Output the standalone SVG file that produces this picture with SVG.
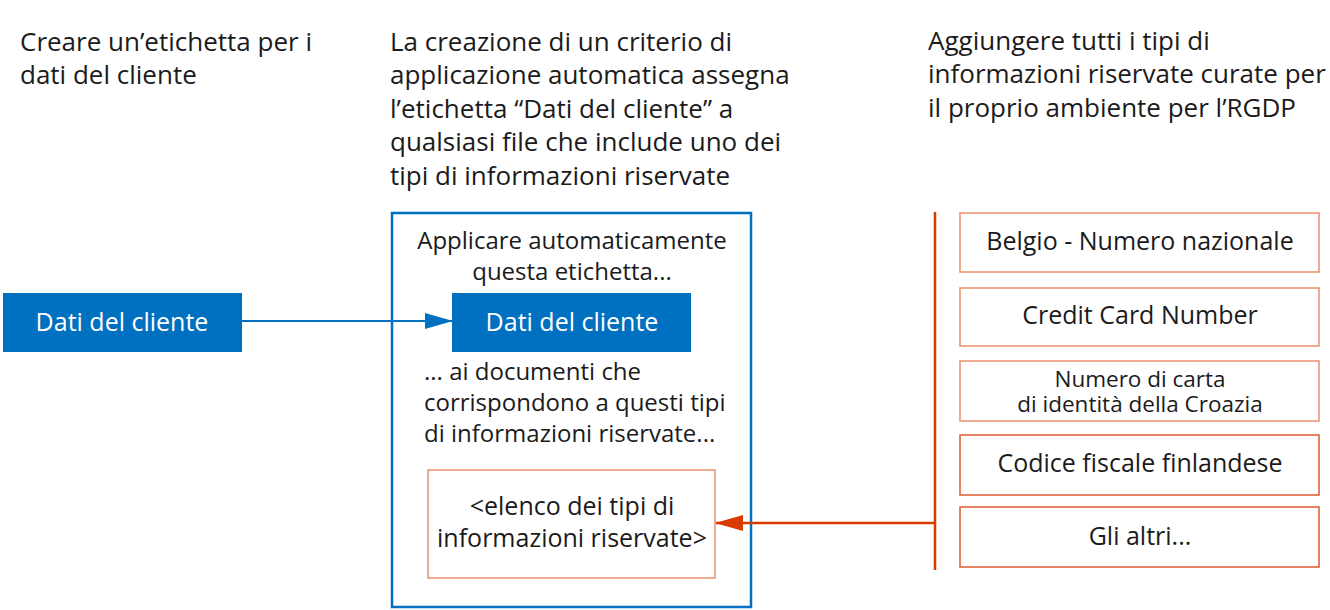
<svg xmlns="http://www.w3.org/2000/svg" width="1330" height="610" viewBox="0 0 1330 610">
<defs>
<style>
text{font-family:"Open Sans","Noto Sans","Liberation Sans",sans-serif;fill:#1b1b1b}
.h{font-size:26px}
.m{font-size:24px}
.l{font-size:25px}
.b{font-size:25px}
.s{font-size:22.5px}
.w{fill:#ffffff;font-size:25px}
.c{text-anchor:middle}
.blue{fill:#0070c0}
.o1{fill:#ffffff;stroke:#e9906f;stroke-width:1.5}
.o2{fill:#ffffff;stroke:#dc5a2e;stroke-width:1.5}
</style>
<marker id="ab" markerWidth="28" markerHeight="20" refX="27" refY="10" orient="auto" markerUnits="userSpaceOnUse"><path d="M0,2 L28,10 L0,18 Z" fill="#0070c0"/></marker>
<marker id="ao" markerWidth="28" markerHeight="20" refX="27" refY="10" orient="auto" markerUnits="userSpaceOnUse"><path d="M0,2 L28,10 L0,18 Z" fill="#d83b01"/></marker>
</defs>
<rect width="1330" height="610" fill="#ffffff"/>
<g id="title-left"><text class="h" x="20" y="51">Creare un’etichetta per i</text><text class="h" x="20" y="84">dati del cliente</text></g>
<g id="title-center"><text class="h" x="390" y="51">La creazione di un criterio di</text><text class="h" x="390" y="84">applicazione automatica assegna</text><text class="h" x="390" y="118">l’etichetta “Dati del cliente” a</text><text class="h" x="390" y="151">qualsiasi file che include uno dei</text><text class="h" x="390" y="185">tipi di informazioni riservate</text></g>
<g id="title-right"><text class="h" x="928" y="50">Aggiungere tutti i tipi di</text><text class="h" x="928" y="83">informazioni riservate curate per</text><text class="h" x="928" y="117">il proprio ambiente per l’RGDP</text></g>
<g id="label-source"><rect class="blue" x="3" y="293" width="239" height="59"/><text class="w c" x="122" y="331">Dati del cliente</text></g>
<g id="policy"><rect x="392" y="213" width="359" height="394" fill="none" stroke="#0070c0" stroke-width="2.5"/>
<text class="m c" x="572" y="249">Applicare automaticamente</text><text class="m c" x="572" y="280">questa etichetta...</text>
<text class="m" x="424" y="380">... ai documenti che</text><text class="m" x="424" y="411">corrispondono a questi tipi</text><text class="m" x="424" y="442">di informazioni riservate...</text></g>
<g id="label-target"><rect class="blue" x="452" y="293" width="239" height="59"/><text class="w c" x="572" y="331">Dati del cliente</text></g>
<g id="type-list"><rect class="o1" x="428" y="470" width="287" height="108"/><text class="l c" x="572" y="515">&lt;elenco dei tipi di</text><text class="l c" x="572" y="547">informazioni riservate&gt;</text></g>
<g id="type-1"><rect class="o1" x="960" y="213" width="359" height="59"/><text class="b c" x="1140" y="250">Belgio - Numero nazionale</text></g>
<g id="type-2"><rect class="o1" x="960" y="288" width="359" height="58"/><text class="b c" x="1140" y="324">Credit Card Number</text></g>
<g id="type-3"><rect class="o1" x="960" y="361" width="359" height="60"/><text class="s c" x="1140" y="387">Numero di carta</text><text class="s c" x="1140" y="412">di identità della Croazia</text></g>
<g id="type-4"><rect class="o2" x="960" y="435" width="359" height="60"/><text class="b c" x="1140" y="472">Codice fiscale finlandese</text></g>
<g id="type-5"><rect class="o2" x="960" y="507" width="359" height="60"/><text class="b c" x="1140" y="545">Gli altri...</text></g>
<g id="connectors">
<line x1="242" y1="321" x2="452" y2="321" stroke="#0070c0" stroke-width="2" marker-end="url(#ab)"/>
<line x1="935" y1="212" x2="935" y2="570" stroke="#d83b01" stroke-width="2.5"/>
<line x1="935" y1="523" x2="716" y2="523" stroke="#d83b01" stroke-width="2.5" marker-end="url(#ao)"/>
</g>
</svg>
